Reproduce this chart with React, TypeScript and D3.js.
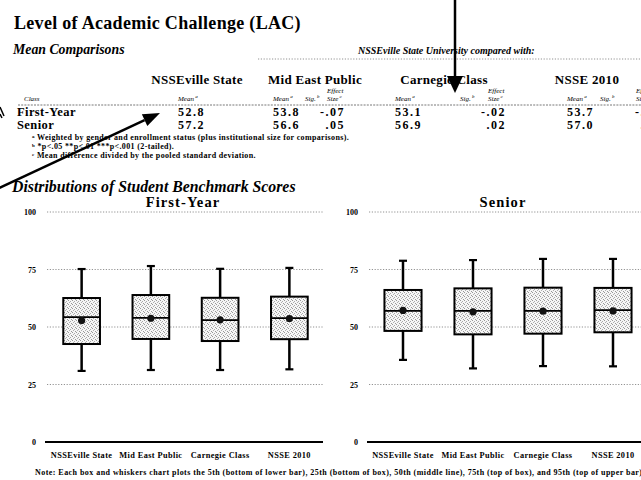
import React from "react";
import * as d3 from "d3";

const categories = ["NSSEville State", "Mid East Public", "Carnegie Class", "NSSE 2010"];
const classes = ["First-Year", "Senior"];
const meanFY = [52.8, 53.8, 53.1, 53.7];
const meanSR = [57.2, 56.6, 56.9, 57.0];
const effectFY = ["-.07", "-.02", "-.01"];
const effectSR = [".05", ".02", ".01"];
const fyP5 = [30.9, 31.3, 31.3, 31.6];
const fyP25 = [42.6, 44.8, 43.9, 44.7];
const fyP50 = [54.3, 54.0, 53.0, 53.9];
const fyP75 = [62.6, 63.9, 62.7, 63.2];
const fyP95 = [75.2, 76.5, 75.3, 75.7];
const srP5 = [35.7, 32.0, 33.0, 32.9];
const srP25 = [48.3, 46.8, 47.1, 47.7];
const srP50 = [57.0, 57.0, 57.0, 57.3];
const srP75 = [66.1, 66.8, 67.1, 67.0];
const srP95 = [78.8, 79.1, 79.6, 79.6];
const yTicks = [0, 25, 50, 75, 100];

const FONT = "'Liberation Serif', 'Times New Roman', serif";

type PanelProps = {
  title: string;
  x0: number;
  x1: number;
  labelX: number;
  gridX0: number;
  gridX1: number;
  p5: number[];
  p25: number[];
  p50: number[];
  p75: number[];
  p95: number[];
  means: number[];
};

function Panel({ title, x0, x1, labelX, gridX0, gridX1, p5, p25, p50, p75, p95, means }: PanelProps) {
  const y = d3.scaleLinear().domain([0, 100]).range([442, 212]);
  const x = d3.scaleBand<string>().domain(categories).range([x0, x1]).padding(0);
  const bw = x.bandwidth() * 0.53;
  return (
    <g>
      <text x={(gridX0 + Math.min(gridX1, 641)) / 2 - 2} y={207} textAnchor="middle"
        fontFamily={FONT} fontWeight="bold" fontSize={14.5} letterSpacing={1.1}>{title}</text>
      {yTicks.map((t) => (
        <g key={t}>
          <text x={labelX} y={y(t) + 3} textAnchor="end" fontFamily={FONT} fontWeight="bold" fontSize={8}>{t}</text>
          {t > 0 && (
            <line x1={gridX0} x2={gridX1} y1={y(t)} y2={y(t)} stroke="#777" strokeWidth={0.8} strokeDasharray="1.2,1.6" />
          )}
        </g>
      ))}
      <line x1={gridX0 - 2} x2={gridX1} y1={y(0)} y2={y(0)} stroke="#000" strokeWidth={2} />
      {categories.map((c, i) => {
        const cx = (x(c) as number) + x.bandwidth() / 2;
        return (
          <g key={c}>
            <line x1={cx} x2={cx} y1={y(p95[i])} y2={y(p5[i])} stroke="#000" strokeWidth={2.5} />
            <line x1={cx - 4} x2={cx + 4} y1={y(p95[i])} y2={y(p95[i])} stroke="#000" strokeWidth={2.2} />
            <line x1={cx - 4} x2={cx + 4} y1={y(p5[i])} y2={y(p5[i])} stroke="#000" strokeWidth={2.2} />
            <rect x={cx - bw / 2} y={y(p75[i])} width={bw} height={y(p25[i]) - y(p75[i])}
              fill="url(#stipple)" stroke="#000" strokeWidth={2} />
            <line x1={cx - bw / 2} x2={cx + bw / 2} y1={y(p50[i])} y2={y(p50[i])} stroke="#000" strokeWidth={1.8} />
            <circle cx={cx} cy={y(means[i])} r={3.6} fill="#111" />
            <text x={cx} y={458} textAnchor="middle" fontFamily={FONT} fontWeight="bold" fontSize={8.3}
              letterSpacing={0.4}>{c}</text>
          </g>
        );
      })}
    </g>
  );
}

function Sup({ t }: { t: string }) {
  return <tspan fontSize={5} dy={-3}>{" " + t}</tspan>;
}

export default function App() {
  const groupCenters = [197, 315, 444, 587];
  const meanX = [178, 273, 395, 567];
  const sigX = [305, 460, 600];
  const effR = [345, 506, 660];
  const rowY = [116, 129];
  const subStyle = { fontFamily: FONT, fontStyle: "italic", fontSize: 7 } as const;
  const valStyle = { fontFamily: FONT, fontWeight: "bold", fontSize: 12, letterSpacing: 1.5 } as const;

  const tail: [number, number] = [-5, 190];
  const tip: [number, number] = [160, 113];
  const dx = tip[0] - tail[0], dy = tip[1] - tail[1];
  const len = Math.hypot(dx, dy);
  const ux = dx / len, uy = dy / len;
  const hb: [number, number] = [tip[0] - 17 * ux, tip[1] - 17 * uy];
  const head = [
    tip,
    [hb[0] + 6.5 * -uy, hb[1] + 6.5 * ux],
    [hb[0] - 6.5 * -uy, hb[1] - 6.5 * ux],
  ].map((q) => q.join(",")).join(" ");

  return (
    <svg width={641} height={480} style={{ position: "absolute", left: 0, top: 0, background: "#fff" }}>
      <defs>
        <pattern id="stipple" width={4} height={4} patternUnits="userSpaceOnUse">
          <rect width={4} height={4} fill="#f6f6f6" />
          <rect x={0} y={0} width={1} height={1} fill="#999" />
          <rect x={2} y={1} width={1} height={1} fill="#aaa" />
          <rect x={1} y={2} width={1} height={1} fill="#b0b0b0" />
          <rect x={3} y={3} width={1} height={1} fill="#999" />
        </pattern>
      </defs>
      <rect width={641} height={480} fill="#fff" />

      <text x={14} y={29} fontFamily={FONT} fontWeight="bold" fontSize={18} letterSpacing={0.3}>
        Level of Academic Challenge (LAC)
      </text>
      <text x={13} y={54} fontFamily={FONT} fontWeight="bold" fontStyle="italic" fontSize={13.8}>Mean Comparisons</text>
      <text x={358} y={54} fontFamily={FONT} fontWeight="bold" fontStyle="italic" fontSize={10}>
        NSSEville State University compared with:
      </text>
      <line x1={258} x2={641} y1={59} y2={59} stroke="#777" strokeWidth={0.8} strokeDasharray="1.2,1.6" />

      {categories.map((c, i) => (
        <text key={c} x={groupCenters[i]} y={84} textAnchor="middle" fontFamily={FONT} fontWeight="bold"
          fontSize={13} letterSpacing={0.3}>{c}</text>
      ))}
      <text x={24} y={101} {...subStyle}>Class</text>
      {categories.map((c, i) => (
        <text key={"m" + c} x={meanX[i]} y={101} {...subStyle}>Mean<Sup t="a" /></text>
      ))}
      {sigX.map((sx, i) => (
        <text key={"s" + i} x={sx} y={101} {...subStyle}>Sig.<Sup t="b" /></text>
      ))}
      {effR.map((ex, i) => (
        <g key={"e" + i}>
          <text x={i === 2 ? 636 : ex - 18} y={93} {...subStyle}>Effect</text>
          <text x={i === 2 ? 636 : ex - 18} y={101} {...subStyle}>Size<Sup t="c" /></text>
        </g>
      ))}
      <line x1={18} x2={641} y1={105} y2={105} stroke="#555" strokeWidth={0.8} strokeDasharray="2,1.2" />

      {classes.map((cl, r) => (
        <g key={cl}>
          <text x={17} y={rowY[r]} fontFamily={FONT} fontWeight="bold" fontSize={12.5} letterSpacing={0.4}>{cl}</text>
          {(r === 0 ? meanFY : meanSR).map((m, i) => (
            <text key={i} x={meanX[i]} y={rowY[r]} {...valStyle}>{m.toFixed(1)}</text>
          ))}
          {(r === 0 ? effectFY : effectSR).map((e, i) => (
            <text key={"ef" + i} x={effR[i]} y={rowY[r]} textAnchor="end" {...valStyle}>{e}</text>
          ))}
        </g>
      ))}

      <g fontFamily={FONT} fontWeight="bold" fontSize={8} letterSpacing={0.35}>
        <text x={32} y={140}><tspan fontSize={5} dy={-2}>a</tspan><tspan dy={2}> Weighted by gender and enrollment status (plus institutional size for comparisons).</tspan></text>
        <text x={32} y={149}><tspan fontSize={5} dy={-2}>b</tspan><tspan dy={2}> *p&lt;.05 **p&lt;.01 ***p&lt;.001 (2-tailed).</tspan></text>
        <text x={32} y={158}><tspan fontSize={5} dy={-2}>c</tspan><tspan dy={2}> Mean difference divided by the pooled standard deviation.</tspan></text>
      </g>

      <text x={12} y={192} fontFamily={FONT} fontWeight="bold" fontStyle="italic" fontSize={15.8}>
        Distributions of Student Benchmark Scores
      </text>

      <Panel title="First-Year" x0={47} x1={324} labelX={36} gridX0={47} gridX1={323}
        p5={fyP5} p25={fyP25} p50={fyP50} p75={fyP75} p95={fyP95} means={meanFY} />
      <Panel title="Senior" x0={368} x1={648} labelX={358} gridX0={369} gridX1={645}
        p5={srP5} p25={srP25} p50={srP50} p75={srP75} p95={srP95} means={meanSR} />

      <text x={35} y={475} fontFamily={FONT} fontWeight="bold" fontSize={8} letterSpacing={0.45}>
        Note: Each box and whiskers chart plots the 5th (bottom of lower bar), 25th (bottom of box), 50th (middle line), 75th (top of box), and 95th (top of upper bar) percentile scores.
      </text>

      <line x1={455} x2={455} y1={-2} y2={78} stroke="#000" strokeWidth={2.5} />
      <polygon points="447,76 463,76 455,93" fill="#000" />
      <line x1={tail[0]} y1={tail[1]} x2={hb[0]} y2={hb[1]} stroke="#000" strokeWidth={2.5} />
      <polygon points={head} fill="#000" />
      <path d="M0,107 L4,116 M0,114 L2,118" stroke="#000" strokeWidth={1.5} />
    </svg>
  );
}
